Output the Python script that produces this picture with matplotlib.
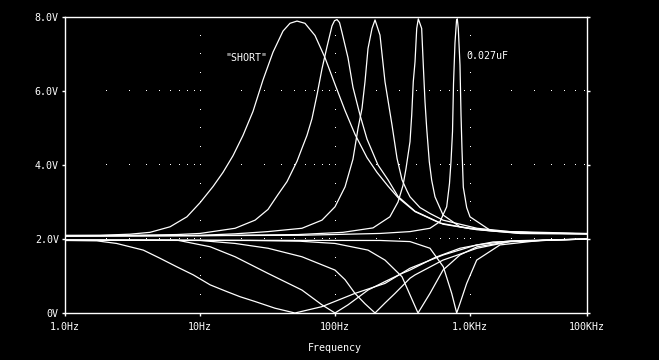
import matplotlib
matplotlib.use('Agg')
import matplotlib.pyplot as plt
from matplotlib.ticker import NullLocator

# resonance traces (peaks), frequency in Hz, output in volts
peak1_f = [1.0, 1.82, 3.03, 4.26, 6.0, 8.0, 10, 12.5, 14.8, 17.55, 20.82, 24.70, 29.29, 34.74, 41.2, 46.4, 52.3,
           59.9, 71.1, 84.3, 100, 118.7, 140.6, 172.6, 204.7, 247, 292.9, 391.5, 599.5, 1000, 1668, 3473, 7356]
peak1_v = [2.10, 2.10, 2.13, 2.18, 2.33, 2.60, 2.98, 3.42, 3.80, 4.25, 4.80, 5.45, 6.30, 7.05, 7.62, 7.83, 7.89,
           7.83, 7.50, 6.90, 6.18, 5.47, 4.83, 4.20, 3.80, 3.43, 3.12, 2.74, 2.43, 2.28, 2.21, 2.16, 2.14]

peak2_f = [1.0, 3.03, 6.75, 10, 18.2, 25.6, 31.9, 37.8, 44.1, 52.3, 56.9, 62.0, 67.5, 73.6, 80.1, 87.3,
           95.0, 99.2, 103.5, 108, 112.7, 124.8, 135.9, 153.2, 172.6, 208.2, 247, 292.9, 391.5, 631, 1127,
           1668, 3473, 7356]
peak2_v = [2.09, 2.10, 2.12, 2.15, 2.29, 2.51, 2.80, 3.20, 3.55, 4.10, 4.45, 4.80, 5.25, 5.90, 6.60, 7.20,
           7.76, 7.90, 7.93, 7.85, 7.58, 6.90, 6.10, 5.35, 4.70, 4.00, 3.60, 3.15, 2.75, 2.40, 2.25,
           2.20, 2.16, 2.14]

peak3_f = [1.0, 10, 18.2, 31.9, 56.9, 80.1, 100, 118.7, 135.9, 148.1, 158.5, 166.8, 175.6, 188, 197.9,
           215.4, 234.6, 264.4, 288, 313.6, 341.5, 359.4, 426, 505.4, 631, 1127, 1979, 7356]
peak3_v = [2.08, 2.10, 2.14, 2.20, 2.29, 2.51, 2.87, 3.41, 4.16, 4.99, 5.53, 6.25, 7.15, 7.69, 7.92,
           7.51, 6.25, 5.08, 4.18, 3.60, 3.30, 3.14, 2.85, 2.69, 2.51, 2.29, 2.20, 2.15]

peak4_f = [1.0, 10, 53.2, 114.6, 191.2, 255, 292.9, 319, 335.6, 359.4, 370, 380, 391.5, 403, 414,
           438.5, 450.8, 464.2, 477.8, 499.4, 520, 550.5, 631, 843, 1406, 2346, 7356]
peak4_v = [2.08, 2.09, 2.12, 2.18, 2.30, 2.60, 3.00, 3.45, 3.90, 4.63, 5.35, 6.25, 6.79, 7.69, 7.95,
           7.69, 6.70, 5.71, 4.99, 4.09, 3.59, 3.14, 2.65, 2.33, 2.22, 2.15, 2.14]

peak5_f = [1.0, 55.0, 215.4, 359.4, 505.4, 599.5, 672, 704.8, 723.3, 742, 754.9, 774, 794.3, 805,
           819, 843, 858, 872.6, 892, 945, 1000, 1406, 2346, 7356]
peak5_v = [2.08, 2.10, 2.15, 2.20, 2.29, 2.47, 2.87, 3.50, 4.10, 4.90, 6.20, 7.30, 7.90, 7.95,
           7.69, 6.70, 5.35, 4.40, 3.40, 2.85, 2.60, 2.24, 2.15, 2.14]

# notch traces
notch1_f = [1.0, 1.72, 2.41, 3.80, 5.05, 6.72, 8.92, 11.9, 15.77, 19.8, 25.6, 35.9, 50.5, 79.7, 140.6,
            234.6, 359.4, 634.3, 1121, 1979, 7356]
notch1_v = [1.96, 1.95, 1.88, 1.70, 1.48, 1.25, 1.03, 0.76, 0.58, 0.44, 0.31, 0.13, 0.00, 0.17, 0.53,
            0.80, 1.21, 1.57, 1.84, 1.95, 2.00]

notch2_f = [1.0, 6.75, 11.9, 18.2, 31.9, 56.9, 80.1, 100, 124.8, 175.6, 234.6, 313.6, 359.4, 550.5,
            843, 1481, 7356]
notch2_v = [1.97, 1.97, 1.79, 1.52, 1.07, 0.62, 0.22, 0.00, 0.22, 0.62, 0.85, 1.07, 1.16, 1.50,
            1.75, 1.92, 2.00]

notch3_f = [1.0, 10, 18.2, 31.9, 56.9, 100, 118.7, 140.6, 166.8, 197.9, 234.6, 278.3, 359.4, 391.5,
            631, 1127, 1979, 7356]
notch3_v = [1.97, 1.96, 1.88, 1.75, 1.52, 1.16, 0.90, 0.53, 0.25, 0.00, 0.27, 0.53, 0.94, 1.03,
            1.43, 1.75, 1.93, 2.00]

notch4_f = [1.0, 23.5, 55.0, 100, 175.6, 234.6, 313.6, 359.4, 412, 505.4, 631, 843, 1127, 1979, 7356]
notch4_v = [1.97, 1.96, 1.94, 1.88, 1.70, 1.43, 0.98, 0.49, 0.00, 0.53, 1.16, 1.57, 1.79, 1.93, 2.00]

notch5_f = [1.0, 215.4, 359.4, 505.4, 634.3, 732, 797, 843, 945, 1121, 1668, 3473, 7356]
notch5_v = [1.97, 1.96, 1.93, 1.75, 1.25, 0.53, 0.00, 0.26, 0.80, 1.43, 1.84, 1.97, 2.00]

f_end = 7356
x_ticks = [1, 10, 100, 1000, f_end]
x_labels = ['1.0Hz', '10Hz', '100Hz', '1.0KHz', '100KHz']
y_ticks = [0, 2, 4, 6, 8]
y_labels = ['0V', '2.0V', '4.0V', '6.0V', '8.0V']


def main():
    plt.rcParams['font.family'] = 'DejaVu Sans Mono'
    fig = plt.figure(figsize=(6.59, 3.6), dpi=100, facecolor='black')
    ax = fig.add_axes([65 / 659, 47 / 360, 522 / 659, 296 / 360])
    ax.set_facecolor('black')
    ax.set_xscale('log')
    ax.set_xlim(1, f_end)
    ax.set_ylim(0, 8)

    # dotted grid
    minor = [k * 10 ** n for n in range(4) for k in range(1, 10) if 1 < k * 10 ** n < f_end]
    for lvl in (2, 4, 6):
        ax.plot(minor, [lvl] * len(minor), ',', color='white')
    half_volts = [0.5 * i for i in range(1, 16)]
    for f in (10, 100, 1000):
        ax.plot([f] * len(half_volts), half_volts, ',', color='white')

    traces = [(peak1_f, peak1_v), (peak2_f, peak2_v), (peak3_f, peak3_v), (peak4_f, peak4_v),
              (peak5_f, peak5_v), (notch1_f, notch1_v), (notch2_f, notch2_v), (notch3_f, notch3_v),
              (notch4_f, notch4_v), (notch5_f, notch5_v)]
    for f, v in traces:
        ax.plot(f, v, color='white', lw=0.9)

    ax.set_xticks(x_ticks)
    ax.set_xticklabels(x_labels)
    ax.xaxis.set_minor_locator(NullLocator())
    ax.set_yticks(y_ticks)
    ax.set_yticklabels(y_labels)
    ax.tick_params(colors='white', direction='out', length=2.5, width=1, labelsize=7.2, right=True)
    ax.tick_params(axis='x', pad=4)
    ax.tick_params(axis='y', pad=2)
    for s in ax.spines.values():
        s.set_color('white')
        s.set_linewidth(1)

    ax.text(22.2, 6.90, '"SHORT"', color='white', fontsize=7.2, ha='center', va='center')
    ax.text(934, 6.95, '0.027uF', color='white', fontsize=7.2, ha='left', va='center')
    fig.text(335 / 659, 1 - 348 / 360, 'Frequency', color='white', fontsize=7.2, ha='center', va='center')

    fig.savefig('out.png', dpi=100, facecolor='black')


if __name__ == '__main__':
    main()
